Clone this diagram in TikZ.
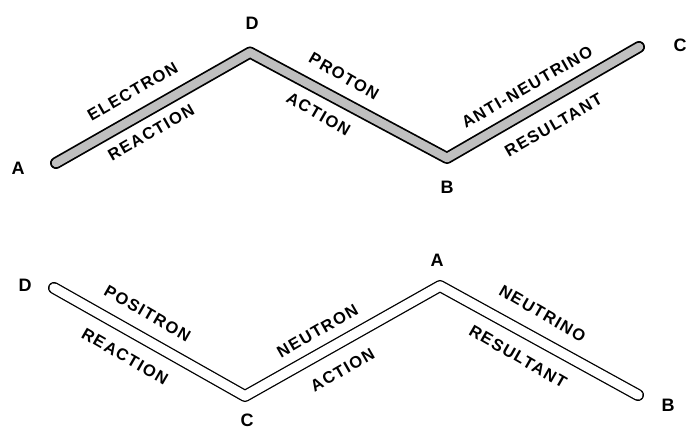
\documentclass[tikz,border=0pt]{standalone}
\usepackage{fontspec}
\setmainfont{Liberation Sans}
\newfontfamily\labfont[LetterSpace=9]{Liberation Sans}
\begin{document}
\begin{tikzpicture}[x=1pt,y=-1pt,
  barlabel/.style={font=\labfont\bfseries\fontsize{16.5}{16.5}\selectfont, inner sep=0pt},
  ptlabel/.style={font=\bfseries\fontsize{18}{18}\selectfont, inner sep=0pt},
  outline/.style={line width=12pt, draw=black, line cap=round, line join=round},
  greyfill/.style={line width=8.5pt, draw=black!25, line cap=round, line join=round},
  whitefill/.style={line width=9.4pt, draw=white, line cap=round, line join=round}]
\useasboundingbox[fill=white] (0,0) rectangle (691,431);
% top bar
\coordinate (tA) at (56,163);
\coordinate (tD) at (250,52.5);
\coordinate (tB) at (447,158);
\coordinate (tC) at (639,47);
\draw[outline] (tA) -- (tD) -- (tB) -- (tC);
\draw[greyfill] (tA) -- (tD) -- (tB) -- (tC);
% bottom bar
\coordinate (bD) at (54,288);
\coordinate (bC) at (245,396);
\coordinate (bA) at (440,286);
\coordinate (bB) at (638,395);
\draw[outline] (bD) -- (bC) -- (bA) -- (bB);
\draw[whitefill] (bD) -- (bC) -- (bA) -- (bB);
% point labels
\node[ptlabel] (lA1) at (18,168.5) {A};
\node[ptlabel] (lD1) at (252,23) {D};
\node[ptlabel] (lB1) at (447,187) {B};
\node[ptlabel] (lC1) at (680,45) {C};
\node[ptlabel] (lD2) at (25,285) {D};
\node[ptlabel] (lC2) at (247,420) {C};
\node[ptlabel] (lA2) at (437,260) {A};
\node[ptlabel] (lB2) at (668,405) {B};
% top labels
\node[barlabel, rotate=30] (t1) at (132.5,91.5) {ELECTRON};
\node[barlabel, rotate=30] (t2) at (151,132.5) {REACTION};
\node[barlabel, rotate=-30] (t3) at (344,76.5) {PROTON};
\node[barlabel, rotate=-30] (t4) at (318.5,114) {ACTION};
\node[barlabel, rotate=30] (t5) at (527,87) {ANTI-NEUTRINO};
\node[barlabel, rotate=30] (t6) at (553.5,125) {RESULTANT};
% bottom labels
\node[barlabel, rotate=-30] (b1) at (147.5,313.5) {POSITRON};
\node[barlabel, rotate=-30] (b2) at (125,356.5) {REACTION};
\node[barlabel, rotate=30] (b3) at (317.5,331) {NEUTRON};
\node[barlabel, rotate=30] (b4) at (342.5,370) {ACTION};
\node[barlabel, rotate=-30] (b5) at (542.5,313.5) {NEUTRINO};
\node[barlabel, rotate=-30] (b6) at (518,356.5) {RESULTANT};
\end{tikzpicture}
\end{document}
